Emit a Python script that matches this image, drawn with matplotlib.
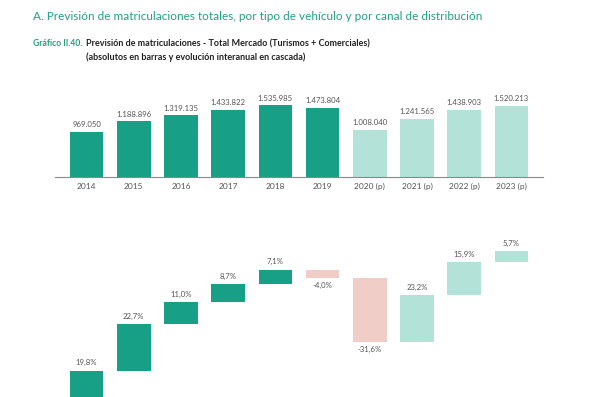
import numpy as np
import matplotlib.pyplot as plt

plt.rcParams['font.family'] = ['Lato', 'DejaVu Sans']

# data
years = ['2014', '2015', '2016', '2017', '2018', '2019',
         '2020 (p)', '2021 (p)', '2022 (p)', '2023 (p)']
registrations = [969050, 1188896, 1319135, 1433822, 1535985, 1473804,
                 1008040, 1241565, 1438903, 1520213]
yoy_change = [19.8, 22.7, 11.0, 8.7, 7.1, -4.0, -31.6, 23.2, 15.9, 5.7]
is_forecast = [False] * 6 + [True] * 4

dark_green = '#17a085'
light_green = '#b3e2d8'
pink = '#f0cdc7'
title_green = '#23a083'
text_gray = '#555555'


def fmt_thousands(v):
    return f'{v:,}'.replace(',', '.')


W, H = 600, 397
fig = plt.figure(figsize=(6, 3.97), dpi=100)
fig.patch.set_facecolor('white')

# titles
fig.text(33 / W, 1 - 17 / H, 'A. Previsión de matriculaciones totales, por tipo de vehículo y por canal de distribución',
         color=title_green, fontsize=8.45, va='center', ha='left')
fig.text(33 / W, 1 - 44 / H, 'Gráfico II.40.', color=title_green, fontsize=6.2,
         fontweight='bold', va='center', ha='left')
fig.text(86 / W, 1 - 44 / H, 'Previsión de matriculaciones - Total Mercado (Turismos + Comerciales)',
         color='#222222', fontsize=6.5, fontweight='bold', va='center', ha='left')
fig.text(86 / W, 1 - 57 / H, '(absolutos en barras y evolución interanual en cascada)',
         color='#222222', fontsize=6.5, fontweight='bold', va='center', ha='left')

x = np.arange(len(years))
left, right = 55, 543

# top: absolute bars
top_px, base_px = 95, 177.3
ax1 = fig.add_axes([left / W, 1 - base_px / H, (right - left) / W, (base_px - top_px) / H])
bar_colors = [light_green if f else dark_green for f in is_forecast]
ax1.bar(x, registrations, width=0.71, color=bar_colors)
ax1.set_xlim(-0.67, len(years) - 1 + 0.67)
ax1.set_ylim(0, max(registrations) * (base_px - top_px) / 72.3)
for xi, v in zip(x, registrations):
    ax1.annotate(fmt_thousands(v), (xi, v), xytext=(0, 2.5), textcoords='offset points',
                 ha='center', va='bottom', fontsize=5.6, color=text_gray)
ax1.set_xticks(x)
ax1.set_xticklabels(years, fontsize=6, color=text_gray)
ax1.tick_params(axis='x', length=0, pad=4)
ax1.set_yticks([])
for s in ['top', 'left', 'right']:
    ax1.spines[s].set_visible(False)
ax1.spines['bottom'].set_color('#888888')
ax1.spines['bottom'].set_linewidth(0.8)

# bottom: waterfall of year-on-year change
ax2 = fig.add_axes([left / W, 0, (right - left) / W, (397 - 230) / H])
cum = np.cumsum(yoy_change)
starts = cum - np.array(yoy_change)
wf_colors = []
for v, f in zip(yoy_change, is_forecast):
    if v < 0:
        wf_colors.append(pink)
    else:
        wf_colors.append(light_green if f else dark_green)
ax2.bar(x, yoy_change, bottom=starts, width=0.71, color=wf_colors)
for xi, v, c in zip(x, yoy_change, cum):
    label = f'{v:.1f}%'.replace('.', ',')
    if v >= 0:
        ax2.annotate(label, (xi, c), xytext=(0, 3), textcoords='offset points',
                     ha='center', va='bottom', fontsize=5.6, color=text_gray)
    else:
        ax2.annotate(label, (xi, c), xytext=(0, -3), textcoords='offset points',
                     ha='center', va='top', fontsize=5.6, color=text_gray)
ax2.set_xlim(-0.67, len(years) - 1 + 0.67)
ax2.set_ylim((411 - 397) / 2.04, (411 - 230) / 2.04)
ax2.axis('off')

fig.savefig('out.png', dpi=100)
